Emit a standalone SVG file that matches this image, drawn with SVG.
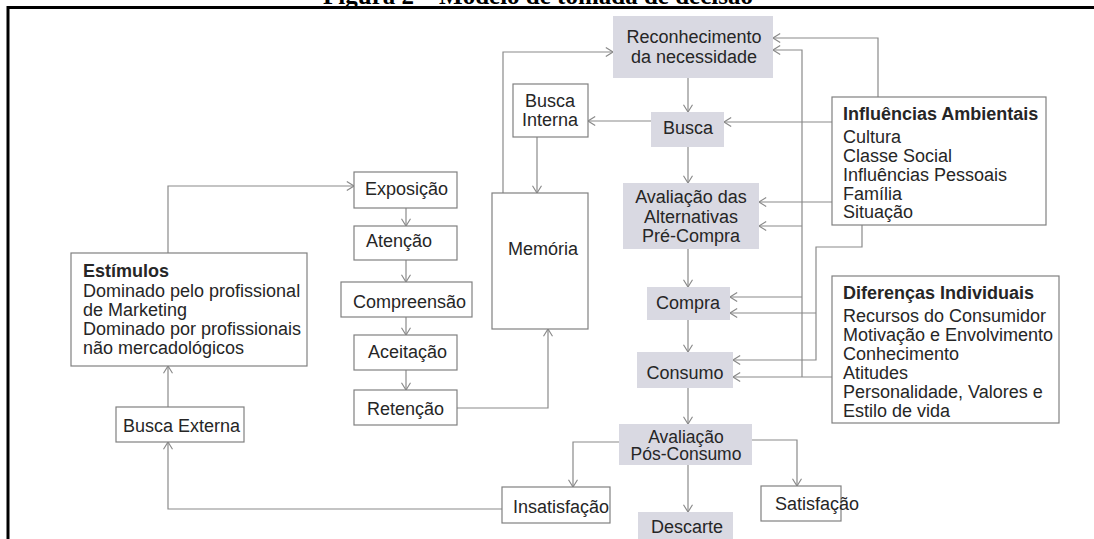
<svg xmlns="http://www.w3.org/2000/svg" width="1094" height="539" viewBox="0 0 1094 539">
<style>
text{font-family:"Liberation Sans",Arial,sans-serif;font-size:18px;fill:#262626}
.b{font-weight:bold}
.m{text-anchor:middle}
.s{font-size:17.5px}
.w{fill:#fff;stroke:#808080;stroke-width:1.2}
.g{fill:#d9d9e2;stroke:none}
.c path{fill:none;stroke:#8a8a8a;stroke-width:1.2}
.title{font-family:"Liberation Serif","Times New Roman",serif;font-size:25px;font-weight:bold;fill:#000;text-anchor:middle}
</style>
<defs>
<marker id="a" viewBox="0 0 10 12" refX="10" refY="6" markerWidth="9" markerHeight="11" markerUnits="userSpaceOnUse" orient="auto">
<path d="M2,1 L10,6 L2,11" fill="none" stroke="#8a8a8a" stroke-width="1.3"/>
</marker>
</defs>
<rect width="1094" height="539" fill="#fff"/>
<text class="title" x="538" y="4">Figura 2 – Modelo de tomada de decisão</text>
<path d="M8,539 V7.5 H1094" fill="none" stroke="#000" stroke-width="3"/>

<g class="c" id="connectors">
<path d="M168,253 V186 H354" marker-end="url(#a)"/>
<path d="M168,407 V366" marker-end="url(#a)"/>
<path d="M502,509 H168 V442" marker-end="url(#a)"/>
<path d="M406,208 V226" marker-end="url(#a)"/>
<path d="M406,260 V282" marker-end="url(#a)"/>
<path d="M406,317 V335" marker-end="url(#a)"/>
<path d="M406,370 V390" marker-end="url(#a)"/>
<path d="M457,408 H548 V329" marker-end="url(#a)"/>
<path d="M503,193 V52 H613" marker-end="url(#a)"/>
<path d="M537,137 V193" marker-end="url(#a)"/>
<path d="M651,121 H588" marker-end="url(#a)"/>
<path d="M688,78 V112" marker-end="url(#a)"/>
<path d="M688,147 V183" marker-end="url(#a)"/>
<path d="M688,249 V287" marker-end="url(#a)"/>
<path d="M688,320 V352" marker-end="url(#a)"/>
<path d="M688,388 V424" marker-end="url(#a)"/>
<path d="M619,442 H573 V487" marker-end="url(#a)"/>
<path d="M688,465 V512" marker-end="url(#a)"/>
<path d="M752,440 H797 V486" marker-end="url(#a)"/>
<path d="M878,97 V38 H773" marker-end="url(#a)"/>
<path d="M832,122 H724" marker-end="url(#a)"/>
<path d="M832,202 H759" marker-end="url(#a)"/>
<path d="M862,225 V247 H816 V360 H733" marker-end="url(#a)"/>
<path d="M816,313 H730" marker-end="url(#a)"/>
<path d="M832,377 H733" marker-end="url(#a)"/>
<path d="M802,377 V50 H773" marker-end="url(#a)"/>
<path d="M802,226 H759" marker-end="url(#a)"/>
<path d="M802,297 H730" marker-end="url(#a)"/>
</g>

<g id="reconhecimento"><rect class="g" x="613" y="16" width="160" height="62"/><text class="m" x="694" y="43">Reconhecimento</text><text class="m" x="694" y="63">da necessidade</text></g>
<g id="busca"><rect class="g" x="651" y="112" width="73" height="35"/><text class="m" x="688" y="134">Busca</text></g>
<g id="busca-interna"><rect class="w" x="513" y="84" width="75" height="53"/><text class="m" x="550" y="107">Busca</text><text class="m" x="550" y="126">Interna</text></g>
<g id="avaliacao-pre"><rect class="g" x="623" y="183" width="136" height="66"/><text class="m" x="691" y="203">Avaliação das</text><text class="m" x="691" y="223">Alternativas</text><text class="m" x="691" y="242">Pré-Compra</text></g>
<g id="compra"><rect class="g" x="647" y="287" width="83" height="33"/><text class="m" x="688" y="309">Compra</text></g>
<g id="consumo"><rect class="g" x="637" y="352" width="96" height="36"/><text class="m" x="685" y="379">Consumo</text></g>
<g id="avaliacao-pos"><rect class="g" x="619" y="424" width="133" height="41"/><text class="m s" x="686" y="443">Avaliação</text><text class="m s" x="686" y="460">Pós-Consumo</text></g>
<g id="insatisfacao"><rect class="w" x="502" y="487" width="108" height="36"/><text x="513" y="513">Insatisfação</text></g>
<g id="descarte"><rect class="g" x="638" y="512" width="95" height="30"/><text x="651" y="533">Descarte</text></g>
<g id="satisfacao"><rect class="w" x="761" y="486" width="80" height="35"/><text x="775" y="510">Satisfação</text></g>
<g id="memoria"><rect class="w" x="492" y="193" width="96" height="136"/><text class="m" x="543" y="255">Memória</text></g>
<g id="exposicao"><rect class="w" x="354" y="172" width="103" height="36"/><text x="365" y="195">Exposição</text></g>
<g id="atencao"><rect class="w" x="354" y="226" width="103" height="34"/><text x="366" y="247">Atenção</text></g>
<g id="compreensao"><rect class="w" x="341" y="282" width="131" height="35"/><text x="353" y="308">Compreensão</text></g>
<g id="aceitacao"><rect class="w" x="354" y="335" width="103" height="35"/><text x="368" y="358">Aceitação</text></g>
<g id="retencao"><rect class="w" x="354" y="390" width="103" height="35"/><text x="367" y="415">Retenção</text></g>
<g id="estimulos"><rect class="w" x="71" y="253" width="236" height="113"/><text class="b" x="83" y="277">Estímulos</text><text x="83" y="297">Dominado pelo profissional</text><text x="83" y="316">de Marketing</text><text x="83" y="335">Dominado por profissionais</text><text x="83" y="354">não mercadológicos</text></g>
<g id="busca-externa"><rect class="w" x="116" y="407" width="128" height="35"/><text x="123" y="432">Busca Externa</text></g>
<g id="influencias"><rect class="w" x="832" y="97" width="214" height="128"/><text class="b" x="843" y="120">Influências Ambientais</text><text x="843" y="143">Cultura</text><text x="843" y="162">Classe Social</text><text x="843" y="181">Influências Pessoais</text><text x="843" y="200">Família</text><text x="843" y="218">Situação</text></g>
<g id="diferencas"><rect class="w" x="832" y="276" width="227" height="147"/><text class="b" x="843" y="299">Diferenças Individuais</text><text x="843" y="322">Recursos do Consumidor</text><text x="843" y="341">Motivação e Envolvimento</text><text x="843" y="360">Conhecimento</text><text x="843" y="379">Atitudes</text><text x="843" y="398">Personalidade, Valores e</text><text x="843" y="417">Estilo de vida</text></g>
</svg>
